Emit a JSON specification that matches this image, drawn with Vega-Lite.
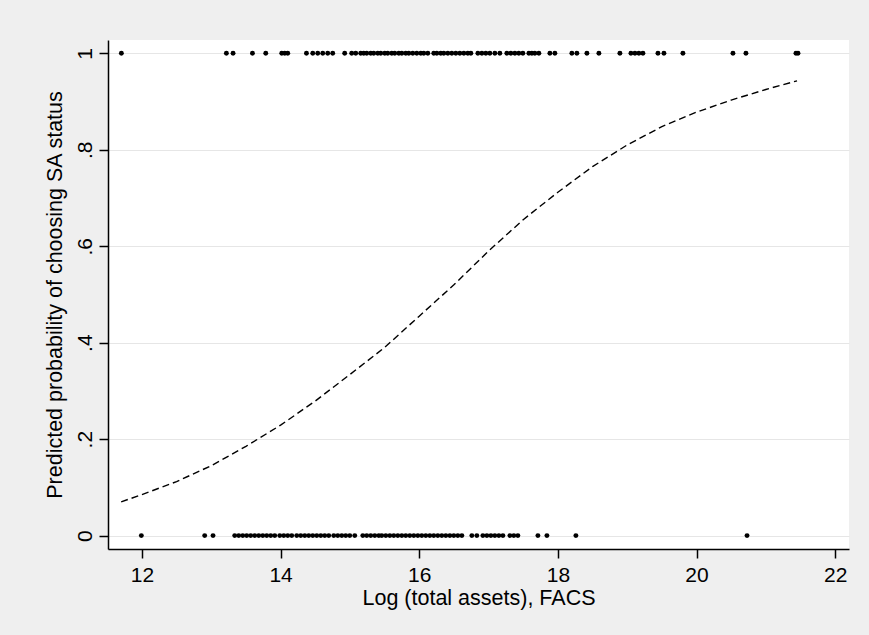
{
  "$schema": "https://vega.github.io/schema/vega-lite/v6.json",
  "width": 741,
  "height": 509,
  "autosize": {"type": "none"},
  "padding": {"left": 108, "top": 40, "right": 20, "bottom": 86},
  "background": "#efefef",
  "config": {
    "font": "Liberation Sans",
    "view": {"stroke": null, "fill": "white"},
    "axis": {
      "domainColor": "black",
      "domainWidth": 1.5,
      "tickColor": "black",
      "tickWidth": 1.5,
      "tickSize": 9,
      "labelFont": "Liberation Sans",
      "titleFont": "Liberation Sans",
      "labelFontSize": 21,
      "titleFontSize": 21.5,
      "labelColor": "black",
      "titleColor": "black",
      "titleFontWeight": "normal"
    }
  },
  "datasets": {
    "obs": [
      {"x": 11.703, "y": 1}, {"x": 13.218, "y": 1}, {"x": 13.314, "y": 1}, {"x": 13.594, "y": 1}, {"x": 13.786, "y": 1},
      {"x": 14.017, "y": 1}, {"x": 14.06, "y": 1}, {"x": 14.103, "y": 1}, {"x": 14.373, "y": 1}, {"x": 14.464, "y": 1},
      {"x": 14.536, "y": 1}, {"x": 14.608, "y": 1}, {"x": 14.68, "y": 1}, {"x": 14.752, "y": 1}, {"x": 14.925, "y": 1},
      {"x": 15.026, "y": 1}, {"x": 15.084, "y": 1}, {"x": 15.156, "y": 1}, {"x": 15.2, "y": 1}, {"x": 15.243, "y": 1},
      {"x": 15.301, "y": 1}, {"x": 15.344, "y": 1}, {"x": 15.402, "y": 1}, {"x": 15.445, "y": 1}, {"x": 15.503, "y": 1},
      {"x": 15.546, "y": 1}, {"x": 15.604, "y": 1}, {"x": 15.647, "y": 1}, {"x": 15.706, "y": 1}, {"x": 15.749, "y": 1},
      {"x": 15.806, "y": 1}, {"x": 15.85, "y": 1}, {"x": 15.907, "y": 1}, {"x": 15.965, "y": 1}, {"x": 16.023, "y": 1},
      {"x": 16.066, "y": 1}, {"x": 16.124, "y": 1}, {"x": 16.21, "y": 1}, {"x": 16.254, "y": 1}, {"x": 16.311, "y": 1},
      {"x": 16.355, "y": 1}, {"x": 16.413, "y": 1}, {"x": 16.47, "y": 1}, {"x": 16.528, "y": 1}, {"x": 16.586, "y": 1},
      {"x": 16.644, "y": 1}, {"x": 16.701, "y": 1}, {"x": 16.745, "y": 1}, {"x": 16.846, "y": 1}, {"x": 16.904, "y": 1},
      {"x": 16.961, "y": 1}, {"x": 17.019, "y": 1}, {"x": 17.091, "y": 1}, {"x": 17.163, "y": 1}, {"x": 17.264, "y": 1},
      {"x": 17.322, "y": 1}, {"x": 17.38, "y": 1}, {"x": 17.437, "y": 1}, {"x": 17.495, "y": 1}, {"x": 17.582, "y": 1},
      {"x": 17.625, "y": 1}, {"x": 17.668, "y": 1}, {"x": 17.726, "y": 1}, {"x": 17.885, "y": 1}, {"x": 17.957, "y": 1},
      {"x": 18.202, "y": 1}, {"x": 18.274, "y": 1}, {"x": 18.419, "y": 1}, {"x": 18.592, "y": 1}, {"x": 18.895, "y": 1},
      {"x": 19.054, "y": 1}, {"x": 19.112, "y": 1}, {"x": 19.169, "y": 1}, {"x": 19.227, "y": 1}, {"x": 19.444, "y": 1},
      {"x": 19.53, "y": 1}, {"x": 19.804, "y": 1}, {"x": 20.526, "y": 1}, {"x": 20.713, "y": 1}, {"x": 21.435, "y": 1},
      {"x": 21.464, "y": 1},
      {"x": 11.991, "y": 0}, {"x": 12.905, "y": 0}, {"x": 13.025, "y": 0}, {"x": 13.338, "y": 0}, {"x": 13.396, "y": 0},
      {"x": 13.454, "y": 0}, {"x": 13.511, "y": 0}, {"x": 13.569, "y": 0}, {"x": 13.627, "y": 0}, {"x": 13.685, "y": 0},
      {"x": 13.743, "y": 0}, {"x": 13.8, "y": 0}, {"x": 13.858, "y": 0}, {"x": 13.916, "y": 0}, {"x": 13.988, "y": 0},
      {"x": 14.046, "y": 0}, {"x": 14.103, "y": 0}, {"x": 14.161, "y": 0}, {"x": 14.233, "y": 0}, {"x": 14.291, "y": 0},
      {"x": 14.349, "y": 0}, {"x": 14.406, "y": 0}, {"x": 14.464, "y": 0}, {"x": 14.522, "y": 0}, {"x": 14.58, "y": 0},
      {"x": 14.637, "y": 0}, {"x": 14.695, "y": 0}, {"x": 14.767, "y": 0}, {"x": 14.825, "y": 0}, {"x": 14.883, "y": 0},
      {"x": 14.94, "y": 0}, {"x": 14.998, "y": 0}, {"x": 15.07, "y": 0}, {"x": 15.186, "y": 0}, {"x": 15.243, "y": 0},
      {"x": 15.301, "y": 0}, {"x": 15.359, "y": 0}, {"x": 15.417, "y": 0}, {"x": 15.46, "y": 0}, {"x": 15.518, "y": 0},
      {"x": 15.576, "y": 0}, {"x": 15.633, "y": 0}, {"x": 15.691, "y": 0}, {"x": 15.749, "y": 0}, {"x": 15.806, "y": 0},
      {"x": 15.864, "y": 0}, {"x": 15.922, "y": 0}, {"x": 15.98, "y": 0}, {"x": 16.037, "y": 0}, {"x": 16.095, "y": 0},
      {"x": 16.153, "y": 0}, {"x": 16.21, "y": 0}, {"x": 16.268, "y": 0}, {"x": 16.326, "y": 0}, {"x": 16.384, "y": 0},
      {"x": 16.442, "y": 0}, {"x": 16.499, "y": 0}, {"x": 16.557, "y": 0}, {"x": 16.615, "y": 0}, {"x": 16.759, "y": 0},
      {"x": 16.831, "y": 0}, {"x": 16.918, "y": 0}, {"x": 16.976, "y": 0}, {"x": 17.034, "y": 0}, {"x": 17.091, "y": 0},
      {"x": 17.149, "y": 0}, {"x": 17.207, "y": 0}, {"x": 17.308, "y": 0}, {"x": 17.365, "y": 0}, {"x": 17.423, "y": 0},
      {"x": 17.712, "y": 0}, {"x": 17.842, "y": 0}, {"x": 18.26, "y": 0}, {"x": 20.729, "y": 0}
    ],
    "fit": [
      {"x": 11.7, "p": 0.07}, {"x": 12.0, "p": 0.085}, {"x": 12.5, "p": 0.112}, {"x": 13.0, "p": 0.145},
      {"x": 13.5, "p": 0.185}, {"x": 14.0, "p": 0.229}, {"x": 14.5, "p": 0.279}, {"x": 15.0, "p": 0.334},
      {"x": 15.5, "p": 0.39}, {"x": 16.0, "p": 0.455}, {"x": 16.5, "p": 0.52}, {"x": 17.0, "p": 0.59},
      {"x": 17.5, "p": 0.655}, {"x": 18.0, "p": 0.712}, {"x": 18.5, "p": 0.765}, {"x": 19.0, "p": 0.81},
      {"x": 19.5, "p": 0.848}, {"x": 20.0, "p": 0.878}, {"x": 20.5, "p": 0.903}, {"x": 21.0, "p": 0.925},
      {"x": 21.45, "p": 0.943}
    ]
  },
  "layer": [
    {
      "data": {"name": "obs"},
      "mark": {"type": "circle", "size": 24, "color": "black", "opacity": 1},
      "encoding": {
        "x": {
          "field": "x", "type": "quantitative",
          "scale": {"domain": [11.51, 22.2], "nice": false, "zero": false},
          "axis": {
            "values": [12, 14, 16, 18, 20, 22],
            "format": "d",
            "grid": false,
            "title": "Log (total assets), FACS",
            "labelPadding": 6,
            "titlePadding": 2
          }
        },
        "y": {
          "field": "y", "type": "quantitative",
          "scale": {"domain": [-0.0278, 1.0276], "nice": false, "zero": false},
          "axis": {
            "values": [0, 0.2, 0.4, 0.6, 0.8, 1],
            "labelExpr": "datum.value < 0.1 ? '0' : datum.value < 0.3 ? '.2' : datum.value < 0.5 ? '.4' : datum.value < 0.7 ? '.6' : datum.value < 0.9 ? '.8' : '1'",
            "labelAngle": -90,
            "labelAlign": "center",
            "labelBaseline": "bottom",
            "labelPadding": 4,
            "grid": true,
            "gridColor": "#e6e6e6",
            "gridWidth": 1.2,
            "title": "Predicted probability of choosing SA status",
            "titlePadding": 8
          }
        }
      }
    },
    {
      "data": {"name": "fit"},
      "mark": {"type": "line", "color": "black", "strokeWidth": 1.4, "strokeDash": [7, 4]},
      "encoding": {
        "x": {"field": "x", "type": "quantitative"},
        "y": {"field": "p", "type": "quantitative"}
      }
    }
  ]
}
